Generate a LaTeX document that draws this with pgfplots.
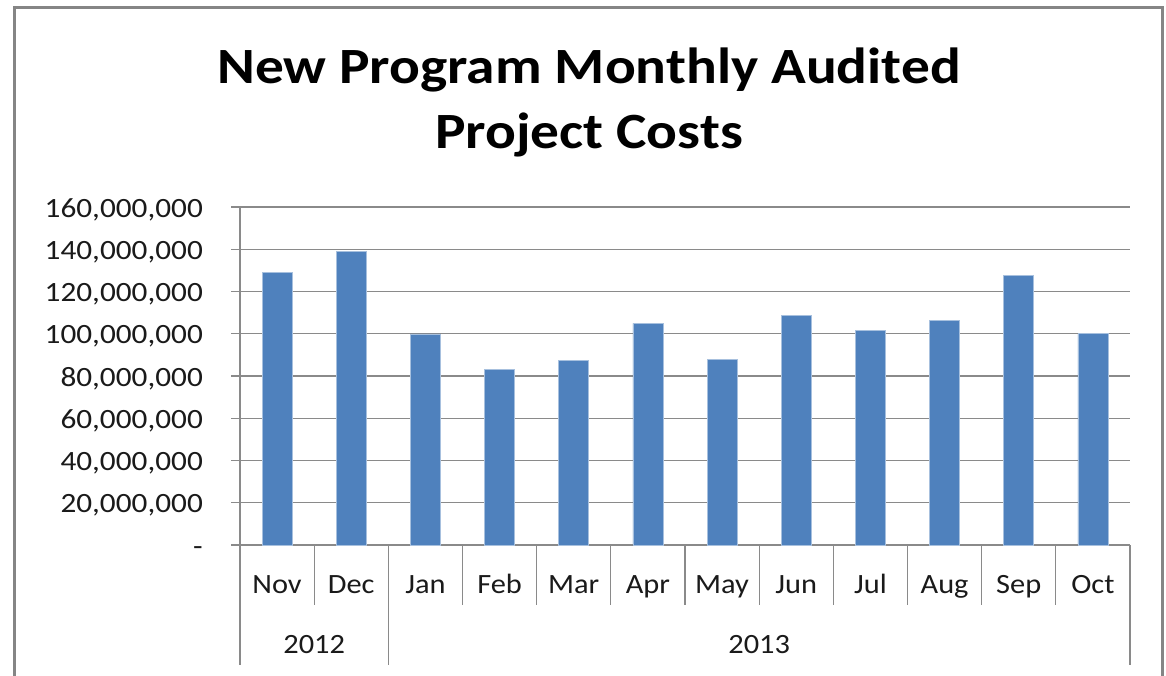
\documentclass[border=0pt]{standalone}
\usepackage{pgfplots}
\pgfplotsset{compat=1.18}
\usepackage{fontspec}
\setmainfont{Carlito}
\definecolor{barblue}{HTML}{4F81BD}
\definecolor{baredge}{HTML}{A7C0DE}
\definecolor{gridgray}{HTML}{8A8A8A}
\definecolor{framegray}{HTML}{858585}
\definecolor{txt}{HTML}{1A1A1A}

\pgfplotstableread{
x  cost
0  129100000
1  139000000
2  99900000
3  83200000
4  87300000
5  104900000
6  88000000
7  108700000
8  101600000
9  106500000
10 127800000
11 100000000
}\costs

\begin{document}
\begin{tikzpicture}
\useasboundingbox (0bp,0bp) rectangle (1166bp,-676bp);
\fill[white] (0bp,0bp) rectangle (1166bp,-676bp);
\draw[framegray, line width=3bp] (14bp,-7bp) rectangle (1162bp,-730bp);
\node[font=\fontsize{51}{65}\selectfont\bfseries, anchor=base, inner sep=0pt, xscale=1.13] at (589bp,-83bp) {New Program Monthly Audited};
\node[font=\fontsize{51}{65}\selectfont\bfseries, anchor=base, inner sep=0pt, xscale=1.13] at (589bp,-148bp) {Project Costs};
\begin{axis}[
  at={(240bp,-545bp)}, anchor=south west,
  scale only axis, width=890bp, height=338bp,
  xmin=-0.5, xmax=11.5, ymin=0, ymax=160000000,
  clip=false,
  axis x line=bottom, axis y line=left,
  every outer x axis line/.append style={-, draw=gridgray, line width=1.2bp},
  every outer y axis line/.append style={-, draw=gridgray, line width=1.2bp},
  ytick={0,20000000,40000000,60000000,80000000,100000000,120000000,140000000,160000000},
  yticklabels={{-\hspace{0.5em}},{20,000,000},{40,000,000},{60,000,000},{80,000,000},{100,000,000},{120,000,000},{140,000,000},{160,000,000}},
  ymajorgrids, grid style={draw=gridgray, line width=1.2bp},
  tick align=outside, major tick length=9bp,
  ytick style={draw=gridgray, line width=1.2bp},
  xtick={0,...,11},
  xticklabels={Nov,Dec,Jan,Feb,Mar,Apr,May,Jun,Jul,Aug,Sep,Oct},
  xtick style={draw=none},
  xticklabel style={anchor=base, inner sep=0pt, yshift=-39bp, font=\fontsize{28}{34}\selectfont, text=txt, xscale=1.09},
  yticklabel style={anchor=base east, inner sep=0pt, xshift=-28bp, yshift=-10bp, font=\fontsize{28}{34}\selectfont, text=txt, xscale=1.12},
  scaled y ticks=false,
]
\addplot[ybar, bar width=30bp, bar shift=0pt, fill=barblue, draw=baredge, line width=0.8bp] table[x=x, y=cost] {\costs};
\pgfplotsinvokeforeach{0.5,2.5,3.5,4.5,5.5,6.5,7.5,8.5,9.5,10.5}{
  \draw[gridgray, line width=1.2bp] (axis cs:#1,0) -- ++(0pt,-60bp);
}
\pgfplotsinvokeforeach{-0.5,1.5,11.5}{
  \draw[gridgray, line width=1.2bp] (axis cs:#1,0) -- ++(0pt,-120bp);
}
\node[anchor=base, inner sep=0pt, font=\fontsize{28}{34}\selectfont, text=txt, xscale=1.09] at ([yshift=-108bp]axis cs:0.5,0) {2012};
\node[anchor=base, inner sep=0pt, font=\fontsize{28}{34}\selectfont, text=txt, xscale=1.09] at ([yshift=-108bp]axis cs:6.5,0) {2013};
\end{axis}
\end{tikzpicture}
\end{document}
